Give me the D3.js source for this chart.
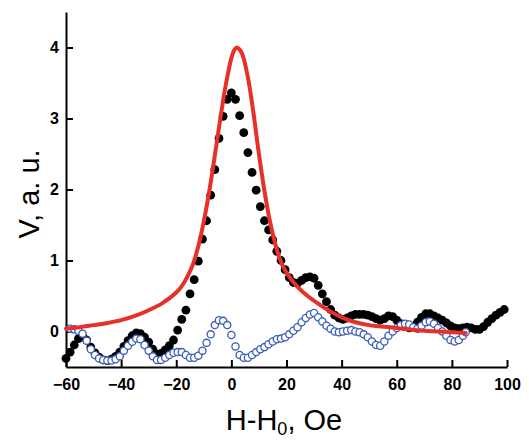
<!DOCTYPE html>
<html>
<head>
<meta charset="utf-8">
<script src="https://cdn.jsdelivr.net/npm/d3@7"></script>
<style>
  body { margin: 0; background: #fff; }
  svg { display: block; }
  .tick text { font-family: "Liberation Sans", Arial, sans-serif; font-weight: bold; font-size: 16px; }
</style>
</head>
<body>
<div id="vis-container"></div>
<script>
// data
const blackH = [-60, -58.5, -57, -55.5, -54, -52.5, -51, -49.5, -48, -46.5, -45, -43.5, -42, -40.5, -39, -37.5,
  -36, -34.5, -33, -31.5, -30, -28.5, -27, -25.5, -24, -22.5, -21, -19.5, -18, -16.5, -15, -13.5, -12, -10.5,
  -9, -7.5, -6, -4.5, -3, -1.5, 0, 1.5, 3, 4.5, 6, 7.5, 9, 10.5, 12, 13.5, 15, 16.5, 18, 19.5, 21, 22.5, 24,
  25.5, 27, 28.5, 30, 31.5, 33, 34.5, 36, 37.5, 39, 40.5, 42, 43.5, 45, 46.5, 48, 49.5, 51, 52.5, 54, 55.5,
  57, 58.5, 60, 61.5, 63, 64.5, 66, 67.5, 69, 70.5, 72, 73.5, 75, 76.5, 78, 79.5, 81, 82.5, 84, 85.5, 87,
  88.5, 90, 91.5, 93, 94.5, 96, 97.5, 99];
const blackV = [-0.38, -0.29, -0.19, -0.1, -0.06, -0.12, -0.22, -0.3, -0.36, -0.4, -0.41, -0.39, -0.35, -0.29,
  -0.21, -0.13, -0.06, -0.02, -0.03, -0.08, -0.15, -0.25, -0.32, -0.31, -0.26, -0.2, -0.12, 0.02, 0.17, 0.3,
  0.53, 0.73, 0.99, 1.3, 1.56, 1.92, 2.28, 2.72, 3.03, 3.27, 3.36, 3.27, 3.04, 2.8, 2.52, 2.24, 1.99, 1.76,
  1.56, 1.43, 1.29, 1.13, 1.0, 0.87, 0.76, 0.69, 0.68, 0.72, 0.76, 0.77, 0.75, 0.65, 0.53, 0.42, 0.31, 0.23,
  0.19, 0.17, 0.19, 0.22, 0.24, 0.24, 0.24, 0.23, 0.21, 0.18, 0.16, 0.18, 0.22, 0.21, 0.16, 0.11, 0.07, 0.05,
  0.07, 0.13, 0.2, 0.25, 0.25, 0.22, 0.19, 0.16, 0.12, 0.08, 0.05, 0.04, 0.05, 0.06, 0.05, 0.03, 0.03, 0.07,
  0.13, 0.18, 0.23, 0.27, 0.31];

const blueH = [-58.5, -57, -55.5, -54, -52.5, -51, -49.5, -48, -46.5, -45, -43.5, -42, -40.5, -39, -37.5, -36,
  -34.5, -33, -31.5, -30, -28.5, -27, -25.5, -24, -22.5, -21, -19.5, -18, -16.5, -15, -13.5, -12, -10.5, -9,
  -7.5, -6, -4.5, -3, -1.5, 0, 1.5, 3, 4.5, 6, 7.5, 9, 10.5, 12, 13.5, 15, 16.5, 18, 19.5, 21, 22.5, 24, 25.5,
  27, 28.5, 30, 31.5, 33, 34.5, 36, 37.5, 39, 40.5, 42, 43.5, 45, 46.5, 48, 49.5, 51, 52.5, 54, 55.5, 57,
  58.5, 60, 61.5, 63, 64.5, 66, 67.5, 69, 70.5, 72, 73.5, 75, 76.5, 78, 79.5, 81, 82.5, 84, 85];
const blueV = [0.04, 0.03, 0.01, -0.03, -0.13, -0.25, -0.33, -0.38, -0.4, -0.41, -0.41, -0.39, -0.35, -0.27,
  -0.2, -0.145, -0.1, -0.11, -0.19, -0.27, -0.35, -0.4, -0.4, -0.37, -0.33, -0.3, -0.29, -0.29, -0.33, -0.37,
  -0.37, -0.34, -0.27, -0.16, -0.04, 0.09, 0.16, 0.15, 0.09, -0.05, -0.21, -0.33, -0.37, -0.37, -0.33, -0.29,
  -0.25, -0.22, -0.18, -0.14, -0.11, -0.1, -0.08, -0.04, 0.01, 0.06, 0.13, 0.19, 0.24, 0.26, 0.2, 0.14, 0.08,
  0.04, 0.0, -0.01, 0.0, 0.01, 0.02, 0.0, -0.01, -0.04, -0.08, -0.14, -0.19, -0.2, -0.14, -0.06, 0.0, 0.05,
  0.09, 0.11, 0.1, 0.06, 0.04, 0.08, 0.13, 0.14, 0.11, 0.05, 0.0, -0.06, -0.12, -0.14, -0.12, -0.06, -0.01];

// fitted curve (red)
const fitH = [-60, -55, -50, -45, -40, -35, -30, -25, -20, -18, -16, -14, -12, -10, -8, -6, -4, -2, 0, 1, 2, 3,
  4, 6, 8, 10, 12, 14, 16, 18, 20, 24, 28, 32, 36, 40, 45, 50, 60, 70, 80, 85];
const fitV = [0.04, 0.06, 0.09, 0.12, 0.16, 0.22, 0.3, 0.4, 0.55, 0.64, 0.77, 0.94, 1.2, 1.55, 1.98, 2.48,
  3.0, 3.48, 3.85, 3.96, 4.0, 3.97, 3.9, 3.58, 3.08, 2.5, 1.98, 1.55, 1.22, 0.98, 0.83, 0.63, 0.49, 0.38,
  0.28, 0.2, 0.13, 0.09, 0.05, 0.01, -0.01, -0.02];

const xTicks = [-60, -40, -20, 0, 20, 40, 60, 80, 100];
const yTicks = [0, 1, 2, 3, 4];

const width = 529;
const height = 440;
const margin = { top: 12, right: 22, bottom: 73, left: 66 };

const svg = d3.select("#vis-container")
    .append("svg")
    .attr("width", width)
    .attr("height", height);

const x = d3.scaleLinear()
    .domain([-60, 100])
    .range([margin.left, width - margin.right]);

const y = d3.scaleLinear()
    .domain([-0.5, 4.5])
    .range([height - margin.bottom, margin.top]);

// x axis
svg.append("g")
    .attr("transform", `translate(0,${height - margin.bottom})`)
    .call(d3.axisBottom(x).tickValues(xTicks).tickFormat(d3.format("d"))
        .tickSizeInner(-7).tickSizeOuter(0).tickPadding(12))
    .call((g) => g.selectAll("path, line").attr("stroke", "#000").attr("stroke-width", 2));

// y axis
svg.append("g")
    .attr("transform", `translate(${margin.left},0)`)
    .call(d3.axisLeft(y).tickValues(yTicks).tickFormat(d3.format("d"))
        .tickSizeInner(-7).tickSizeOuter(0).tickPadding(7))
    .call((g) => g.selectAll("path, line").attr("stroke", "#000").attr("stroke-width", 2));

svg.selectAll(".tick text").attr("fill", "#000");

// axis titles
svg.append("text")
    .attr("x", 284)
    .attr("y", 430)
    .attr("text-anchor", "middle")
    .style("font-family", "Liberation Sans, Arial, sans-serif")
    .style("font-size", "29px")
    .call((t) => {
        t.append("tspan").text("H-H");
        t.append("tspan").attr("font-size", "18px").attr("dy", 5).text("0");
        t.append("tspan").attr("dy", -5).text(", Oe");
    });

svg.append("text")
    .attr("transform", "translate(39,194) rotate(-90)")
    .attr("text-anchor", "middle")
    .style("font-family", "Liberation Sans, Arial, sans-serif")
    .style("font-size", "29px")
    .text("V, a. u.");

// black dots
const blackData = blackH.map((h, i) => ({ h: h, v: blackV[i] }));
svg.append("g")
    .selectAll("circle")
    .data(blackData)
    .enter()
    .append("circle")
    .attr("cx", (d) => x(d.h))
    .attr("cy", (d) => y(d.v))
    .attr("r", 4.4)
    .style("fill", "#000");

// blue open circles
const blueData = blueH.map((h, i) => ({ h: h, v: blueV[i] }));
svg.append("g")
    .selectAll("circle")
    .data(blueData)
    .enter()
    .append("circle")
    .attr("cx", (d) => x(d.h))
    .attr("cy", (d) => y(d.v))
    .attr("r", 3.6)
    .style("fill", "#fff")
    .style("stroke", "#3b5cb8")
    .style("stroke-width", 1.3);

// red fit line
const fitData = fitH.map((h, i) => ({ h: h, v: fitV[i] }));
svg.append("path")
    .datum(fitData)
    .attr("fill", "none")
    .attr("stroke", "#e8302a")
    .attr("stroke-width", 4)
    .attr("stroke-linecap", "round")
    .attr("d", d3.line()
        .x((d) => x(d.h))
        .y((d) => y(d.v))
        .curve(d3.curveCatmullRom));
</script>
</body>
</html>
